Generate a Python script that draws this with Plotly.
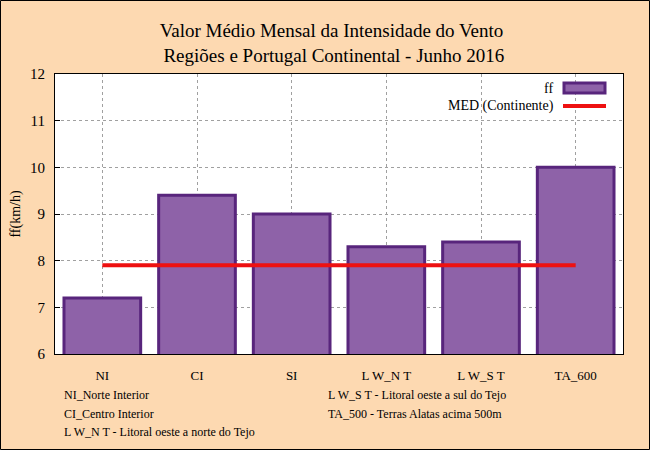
import plotly.graph_objects as go

categories = ["NI", "CI", "SI", "L W_N T", "L W_S T", "TA_600"]
ff_values = [7.2, 9.4, 9.0, 8.3, 8.4, 10.0]
med_continente = [7.9, 7.9, 7.9, 7.9, 7.9, 7.9]
y_ticks = [6, 7, 8, 9, 10, 11, 12]

notes_left = ["NI_Norte Interior", "CI_Centro Interior", "L W_N T - Litoral oeste a norte do Tejo"]
notes_right = ["L W_S T - Litoral oeste a sul do Tejo", "TA_500 - Terras Alatas acima 500m"]

W, H = 650, 450
L, R, T, B = 55, 27, 74, 96
PW, PH = W - L - R, H - T - B

def px(x):
    return (x - L) / PW

def py(y):
    return (H - B - y) / PH

FONT = "Liberation Serif, Times New Roman, serif"
BG = "#FDD9B1"
BAR_FILL = "#8E62A8"
BAR_LINE = "#58257C"
RED = "#EE1111"

fig = go.Figure()
fig.add_trace(go.Bar(
    x=categories, y=ff_values, name="ff", width=0.81,
    marker=dict(color=BAR_FILL, line=dict(color=BAR_LINE, width=3)),
    showlegend=False,
))
fig.add_trace(go.Scatter(
    x=categories, y=med_continente, name="MED (Continente)", mode="lines",
    line=dict(color=RED, width=4), showlegend=False,
))

fig.update_layout(
    width=W, height=H,
    margin=dict(l=L, r=R, t=T, b=B),
    paper_bgcolor=BG, plot_bgcolor="white",
    font=dict(family=FONT, size=13, color="black"),
    title=dict(
        text="Valor Médio Mensal da Intensidade do Vento<br> Regiões e Portugal Continental - Junho 2016",
        x=0.51, xanchor="center", y=1 - 37 / H, yanchor="middle",
        font=dict(family=FONT, size=19, color="black"),
    ),
    xaxis=dict(
        range=[-0.5, 5.5], showgrid=True, gridcolor="#A0A0A0", griddash="3px,3px", gridwidth=1,
        showline=True, linecolor="black", linewidth=1, mirror=True,
        ticks="", tickfont=dict(family=FONT, size=13), ticklabelstandoff=9,
    ),
    yaxis=dict(
        range=[6, 12], tickvals=y_ticks, showgrid=True, gridcolor="#A0A0A0",
        griddash="3px,3px", gridwidth=1, zeroline=False,
        showline=True, linecolor="black", linewidth=1, mirror=True,
        ticks="inside", ticklen=5, tickcolor="black",
        tickfont=dict(family=FONT, size=15), ticklabelstandoff=6,
        title=dict(text="ff(km/h)", font=dict(family=FONT, size=14), standoff=6),
    ),
    bargap=0.19,
)

annotations = []
shapes = []

# custom legend (text left of symbol)
annotations.append(dict(xref="paper", yref="paper", x=px(555), y=py(88), text="ff",
                        showarrow=False, xanchor="right", yanchor="middle",
                        font=dict(family=FONT, size=14)))
annotations.append(dict(xref="paper", yref="paper", x=px(556), y=py(106), text="MED (Continente)",
                        showarrow=False, xanchor="right", yanchor="middle",
                        font=dict(family=FONT, size=14)))
shapes.append(dict(type="rect", xref="paper", yref="paper", x0=px(564), x1=px(605),
                   y0=py(93), y1=py(83), fillcolor=BAR_FILL, line=dict(color=BAR_LINE, width=3)))
shapes.append(dict(type="line", xref="paper", yref="paper", x0=px(563), x1=px(606),
                   y0=py(106), y1=py(106), line=dict(color=RED, width=4)))

# footnotes
for i, t in enumerate(notes_left):
    annotations.append(dict(xref="paper", yref="paper", x=px(62), y=py(395 + 18.5 * i), text=t,
                            showarrow=False, xanchor="left", yanchor="middle",
                            font=dict(family=FONT, size=12)))
for i, t in enumerate(notes_right):
    annotations.append(dict(xref="paper", yref="paper", x=px(326), y=py(395 + 18.5 * i), text=t,
                            showarrow=False, xanchor="left", yanchor="middle",
                            font=dict(family=FONT, size=12)))

# outer frame
shapes.append(dict(type="rect", xref="paper", yref="paper", x0=px(0.5), x1=px(W - 0.5),
                   y0=py(H - 0.5), y1=py(0.5), line=dict(color="black", width=1)))

fig.update_layout(annotations=annotations, shapes=shapes)
fig.write_html("out.html", config={"displayModeBar": False},
               post_script="document.body.style.margin='0';document.body.style.padding='0';")
